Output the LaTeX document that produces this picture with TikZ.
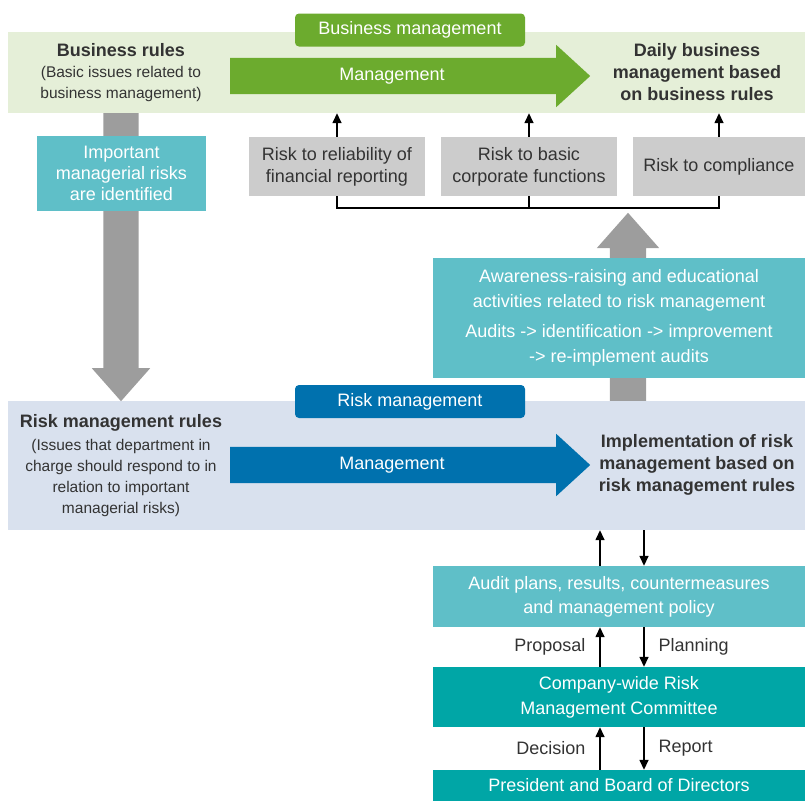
\documentclass[tikz,border=0pt]{standalone}
\usepackage{fontspec}
\setmainfont{Liberation Sans}
\usetikzlibrary{shapes.arrows, positioning, arrows.meta}

\definecolor{bizband}{HTML}{E5EFD8}
\definecolor{bizgreen}{HTML}{6CAB2E}
\definecolor{riskband}{HTML}{D9E1EE}
\definecolor{riskblue}{HTML}{0071AE}
\definecolor{lightteal}{HTML}{5FBFC8}
\definecolor{darkteal}{HTML}{00A6A6}
\definecolor{riskgray}{HTML}{CCCCCC}
\definecolor{flowgray}{HTML}{9D9D9D}
\definecolor{textgray}{HTML}{333333}

\begin{document}
\begin{tikzpicture}[x=1pt,y=-1pt,
    font=\fontsize{18}{22}\selectfont, text=textgray,
    band/.style={rectangle, inner sep=0pt, minimum width=797pt},
    tab/.style={rectangle, rounded corners=4pt, text=white, minimum width=230pt, minimum height=33pt, inner sep=0pt},
    flow/.style={single arrow, single arrow head extend=13pt, single arrow tip angle=85, minimum height=360pt, inner sep=18pt},
    bigup/.style={single arrow, fill=flowgray, single arrow tip angle=83},
    riskbox/.style={rectangle, fill=riskgray, minimum height=59pt, inner sep=0pt, align=center},
    tealbox/.style={rectangle, text=white, inner sep=0pt, align=center},
    sub/.style={font=\fontsize{15.5}{21}\selectfont, align=center},
    thinarrow/.style={draw=black, line width=1.5pt, -{Triangle[length=10pt,width=9pt]}},
    bracket/.style={draw=black, line width=1.6pt}]
\useasboundingbox (0,0) rectangle (805,801);

\node[band, fill=bizband, minimum height=81pt] (bizband) at (406.5,72.5) {};
\node[band, fill=riskband, minimum height=129pt] (riskband) at (406.5,465.5) {};

\node[bigup, shape border rotate=270, anchor=tail, minimum height=288pt, inner sep=17.5pt, single arrow head extend=11.5pt] (downflow) at (121,113) {};
\node[bigup, shape border rotate=90, anchor=tail, minimum height=188pt, inner sep=18pt, single arrow head extend=13pt] (upflow) at (628,401) {};

\node[tab, fill=bizgreen] (biztab) at (410,30) {Business management};
\node[flow, fill=bizgreen, anchor=tail] (bizflow) at (230,76) {};
\node[text=white] (bizmgmt) at (392,76) {Management};
\node[font=\fontsize{18}{22}\selectfont\bfseries] (bizrules) at (121,50) {Business rules};
\node[sub] (bizissues) at (121,84) {(Basic issues related to\\business management)};
\node[font=\fontsize{18}{22}\selectfont\bfseries, align=center] (daily) at (697,72) {Daily business\\management based\\on business rules};

\node[riskbox, minimum width=176pt] (reliab) at (337,166.5) {Risk to reliability of\\financial reporting};
\node[riskbox, minimum width=176pt] (basic) at (529,166.5) {Risk to basic\\corporate functions};
\node[riskbox, minimum width=172pt] (comply) at (719,166.5) {Risk to compliance};

\draw[thinarrow] (reliab.north) -- (reliab.north |- bizband.south);
\draw[thinarrow] (basic.north) -- (basic.north |- bizband.south);
\draw[thinarrow] (comply.north) -- (comply.north |- bizband.south);
\draw[bracket] (reliab.south) -- ++(0,12) -| (comply.south);
\draw[bracket] (basic.south) -- ++(0,12);

\node[tealbox, fill=lightteal, minimum width=169pt, minimum height=75pt, font=\fontsize{18}{21}\selectfont] (identified) at (121.5,173.5) {Important\\managerial risks\\are identified};
\node[tealbox, fill=lightteal, minimum width=372pt, minimum height=120pt, font=\fontsize{18}{24.5}\selectfont] (aware) at (619,318) {Awareness-raising and educational\\activities related to risk management\\[6pt]Audits -> identification -> improvement\\-> re-implement audits};

\node[tab, fill=riskblue] (risktab) at (410,401.5) {Risk management};
\node[flow, fill=riskblue, anchor=tail] (riskflow) at (230,465) {};
\node[text=white] (riskmgmt) at (392,465) {Management};
\node[font=\fontsize{18}{22}\selectfont\bfseries] (riskrules) at (121,423) {Risk management rules};
\node[sub] (riskissues) at (121,477.5) {(Issues that department in\\charge should respond to in\\relation to important\\managerial risks)};
\node[font=\fontsize{18}{22}\selectfont\bfseries, align=center] (implement) at (697,465) {Implementation of risk\\management based on\\risk management rules};

\node[tealbox, fill=lightteal, minimum width=372pt, minimum height=61pt, font=\fontsize{18}{24}\selectfont] (audit) at (619,596.5) {Audit plans, results, countermeasures\\and management policy};
\node[tealbox, fill=darkteal, minimum width=372pt, minimum height=60pt, font=\fontsize{18}{25}\selectfont] (committee) at (619,697) {Company-wide Risk\\Management Committee};
\node[tealbox, fill=darkteal, minimum width=372pt, minimum height=31pt] (board) at (619,785.5) {President and Board of Directors};

\coordinate (upcol) at (600,0);
\coordinate (downcol) at (644,0);
\draw[thinarrow] (audit.north -| upcol) -- (riskband.south -| upcol);
\draw[thinarrow] (riskband.south -| downcol) -- (audit.north -| downcol);
\draw[thinarrow] (committee.north -| upcol) -- (audit.south -| upcol);
\draw[thinarrow] (audit.south -| downcol) -- (committee.north -| downcol);
\draw[thinarrow] (board.north -| upcol) -- (committee.south -| upcol);
\draw[thinarrow] (committee.south -| downcol) -- (board.north -| downcol);

\node[anchor=east] (proposal) at (589,647) {Proposal};
\node[anchor=west] (planning) at (655,647) {Planning};
\node[anchor=east] (decision) at (589,748) {Decision};
\node[anchor=west] (report) at (655,748) {Report};
\end{tikzpicture}
\end{document}
